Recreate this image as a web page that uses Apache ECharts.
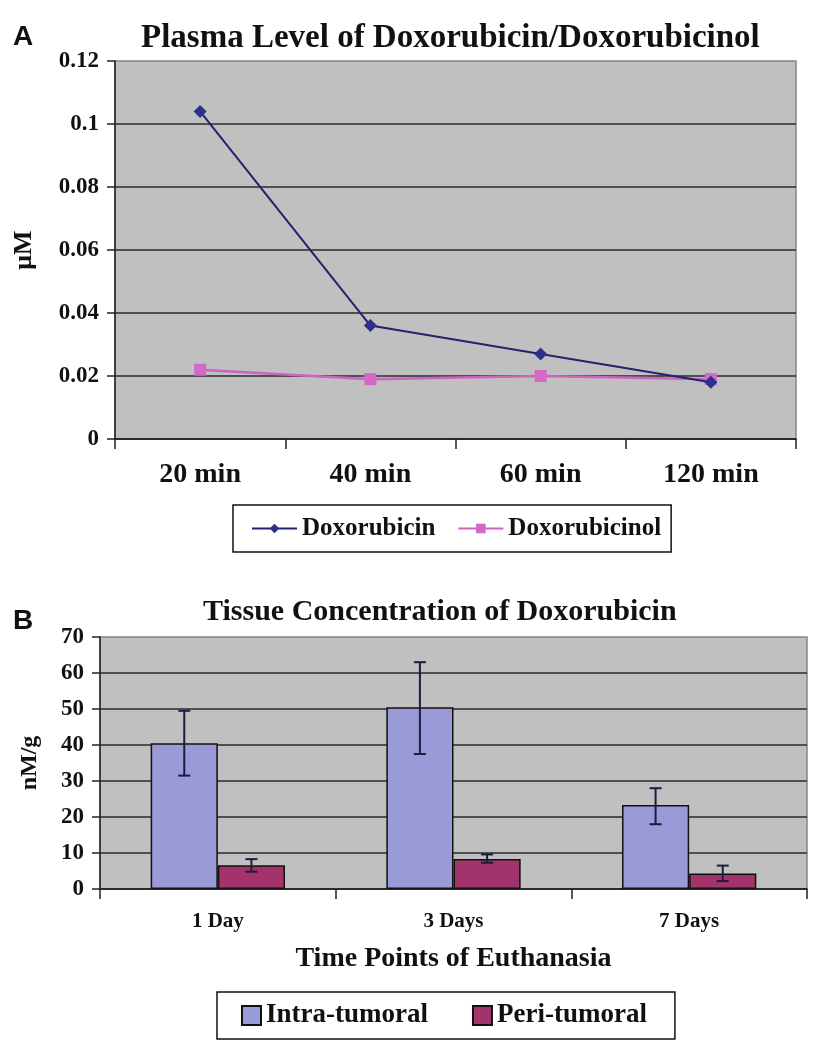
<!DOCTYPE html>
<html>
<head>
<meta charset="utf-8">
<script src="https://cdn.jsdelivr.net/npm/echarts@6/dist/echarts.min.js"></script>
<style>
  html, body { margin: 0; padding: 0; background: #ffffff; }
  #chart { width: 822px; height: 1050px; }
</style>
</head>
<body>
<div id="chart"></div>
<script>
// ---- Panel A data ----
const timeCategories = ['20 min', '40 min', '60 min', '120 min'];
const doxorubicin = [0.104, 0.036, 0.027, 0.018];
const doxorubicinol = [0.022, 0.019, 0.020, 0.019];
const plasmaTicks = [0, 0.02, 0.04, 0.06, 0.08, 0.1, 0.12];

// ---- Panel B data ----
const dayCategories = ['1 Day', '3 Days', '7 Days'];
const intraTumoral = [40.5, 50.5, 23.3];
const intraLow = [31.5, 37.5, 18.0];
const intraHigh = [49.5, 63.0, 28.0];
const periTumoral = [6.6, 8.3, 4.3];
const periLow = [4.8, 7.3, 2.2];
const periHigh = [8.3, 9.6, 6.5];
const tissueTicks = [0, 10, 20, 30, 40, 50, 60, 70];

const SERIF = "'Liberation Serif', 'Times New Roman', serif";
const BAR_FRAC = 0.285;

function errorRender(side) {
  return function (params, api) {
    const cat = api.value(0);
    const lo = api.coord([cat, api.value(1)]);
    const hi = api.coord([cat, api.value(2)]);
    const band = api.size([1, 0])[0];
    const x = lo[0] + side * band * BAR_FRAC / 2;
    const cap = 6;
    const style = { stroke: '#1c1c3c', lineWidth: 2 };
    return {
      type: 'group',
      children: [
        { type: 'line', shape: { x1: x, y1: lo[1], x2: x, y2: hi[1] }, style: style },
        { type: 'line', shape: { x1: x - cap, y1: hi[1], x2: x + cap, y2: hi[1] }, style: style },
        { type: 'line', shape: { x1: x - cap, y1: lo[1], x2: x + cap, y2: lo[1] }, style: style }
      ]
    };
  };
}

const chart = echarts.init(document.getElementById('chart'), null, { renderer: 'canvas' });

const axisLabelStyle = { color: '#111', fontFamily: SERIF, fontWeight: 'bold' };

chart.setOption({
  backgroundColor: '#ffffff',
  animation: false,
  title: [
    {
      text: 'Plasma Level of Doxorubicin/Doxorubicinol',
      left: 136, top: 17,
      textStyle: { fontFamily: SERIF, fontWeight: 'bold', fontSize: 33, color: '#111' }
    },
    {
      text: 'Tissue Concentration of Doxorubicin',
      left: 198, top: 592,
      textStyle: { fontFamily: SERIF, fontWeight: 'bold', fontSize: 30, color: '#111' }
    }
  ],
  graphic: [
    { type: 'text', left: 13, top: 23, style: { text: 'A', font: "bold 28px 'Liberation Sans', Arial, sans-serif", fill: '#111' } },
    { type: 'text', left: 13, top: 607, style: { text: 'B', font: "bold 28px 'Liberation Sans', Arial, sans-serif", fill: '#111' } }
  ],
  legend: [
    {
      data: ['Doxorubicin', 'Doxorubicinol'],
      left: 233, top: 505,
      padding: [11, 10, 11, 18],
      itemGap: 22,
      itemWidth: 45, itemHeight: 12,
      borderColor: '#111', borderWidth: 1.5,
      backgroundColor: '#fff',
      textStyle: { fontFamily: SERIF, fontWeight: 'bold', fontSize: 25, color: '#111' }
    },
    {
      data: ['Intra-tumoral', 'Peri-tumoral'],
      left: 217, top: 992,
      padding: [10, 28, 10, 24],
      itemGap: 44,
      icon: 'rect',
      itemWidth: 19, itemHeight: 19,
      borderColor: '#111', borderWidth: 1.5,
      backgroundColor: '#fff',
      textStyle: { fontFamily: SERIF, fontWeight: 'bold', fontSize: 27, color: '#111' }
    }
  ],
  grid: [
    { left: 115, top: 61, width: 681, height: 378, show: true, backgroundColor: '#c0c0c0', borderColor: '#858585', borderWidth: 1.5 },
    { left: 100, top: 637, width: 707, height: 252, show: true, backgroundColor: '#c0c0c0', borderColor: '#858585', borderWidth: 1.5 }
  ],
  xAxis: [
    {
      type: 'category', gridIndex: 0, data: timeCategories, boundaryGap: true,
      axisLine: { lineStyle: { color: '#222', width: 1.5 } },
      axisTick: { show: true, length: 10, lineStyle: { color: '#222', width: 1.5 } },
      axisLabel: Object.assign({ fontSize: 28, margin: 22 }, axisLabelStyle)
    },
    {
      type: 'category', gridIndex: 1, data: dayCategories, boundaryGap: true,
      name: 'Time Points of Euthanasia', nameLocation: 'middle', nameGap: 56,
      nameTextStyle: { fontFamily: SERIF, fontWeight: 'bold', fontSize: 28, color: '#111' },
      axisLine: { lineStyle: { color: '#222', width: 1.5 } },
      axisTick: { show: true, length: 10, lineStyle: { color: '#222', width: 1.5 } },
      axisLabel: Object.assign({ fontSize: 21, margin: 22 }, axisLabelStyle)
    }
  ],
  yAxis: [
    {
      type: 'value', gridIndex: 0, min: plasmaTicks[0], max: plasmaTicks[plasmaTicks.length - 1], interval: 0.02,
      name: 'μM', nameLocation: 'middle', nameGap: 78,
      nameTextStyle: { fontFamily: SERIF, fontWeight: 'bold', fontSize: 26, color: '#111' },
      axisLine: { show: true, lineStyle: { color: '#222', width: 1.5 } },
      axisTick: { show: true, length: 8, lineStyle: { color: '#222', width: 1.5 } },
      axisLabel: Object.assign({ fontSize: 23, margin: 16 }, axisLabelStyle),
      splitLine: { show: true, showMaxLine: false, lineStyle: { color: '#2a2a2a', width: 1.5 } }
    },
    {
      type: 'value', gridIndex: 1, min: tissueTicks[0], max: tissueTicks[tissueTicks.length - 1], interval: 10,
      name: 'nM/g', nameLocation: 'middle', nameGap: 58,
      nameTextStyle: { fontFamily: SERIF, fontWeight: 'bold', fontSize: 24, color: '#111' },
      axisLine: { show: true, lineStyle: { color: '#222', width: 1.5 } },
      axisTick: { show: true, length: 8, lineStyle: { color: '#222', width: 1.5 } },
      axisLabel: Object.assign({ fontSize: 23, margin: 16 }, axisLabelStyle),
      splitLine: { show: true, showMaxLine: false, lineStyle: { color: '#2a2a2a', width: 1.5 } }
    }
  ],
  series: [
    {
      name: 'Doxorubicin', type: 'line', xAxisIndex: 0, yAxisIndex: 0,
      data: doxorubicin,
      symbol: 'diamond', symbolSize: 13,
      lineStyle: { color: '#22226e', width: 2 },
      itemStyle: { color: '#2e2e8c' },
      z: 4
    },
    {
      name: 'Doxorubicinol', type: 'line', xAxisIndex: 0, yAxisIndex: 0,
      data: doxorubicinol,
      symbol: 'rect', symbolSize: 12,
      lineStyle: { color: '#d062c2', width: 2.5 },
      itemStyle: { color: '#d468c6' },
      z: 3
    },
    {
      name: 'Intra-tumoral', type: 'bar', xAxisIndex: 1, yAxisIndex: 1,
      data: intraTumoral,
      barWidth: (BAR_FRAC * 100) + '%', barGap: '0%',
      itemStyle: { color: '#9a9ad8', borderColor: '#111', borderWidth: 1.5 }
    },
    {
      name: 'Peri-tumoral', type: 'bar', xAxisIndex: 1, yAxisIndex: 1,
      data: periTumoral,
      barWidth: (BAR_FRAC * 100) + '%', barGap: '0%',
      itemStyle: { color: '#a3346b', borderColor: '#111', borderWidth: 1.5 }
    },
    {
      name: 'Intra-tumoral error', type: 'custom', xAxisIndex: 1, yAxisIndex: 1,
      renderItem: errorRender(-1),
      data: dayCategories.map((c, i) => [i, intraLow[i], intraHigh[i]]),
      z: 5, silent: true
    },
    {
      name: 'Peri-tumoral error', type: 'custom', xAxisIndex: 1, yAxisIndex: 1,
      renderItem: errorRender(1),
      data: dayCategories.map((c, i) => [i, periLow[i], periHigh[i]]),
      z: 5, silent: true
    }
  ]
});
</script>
</body>
</html>
